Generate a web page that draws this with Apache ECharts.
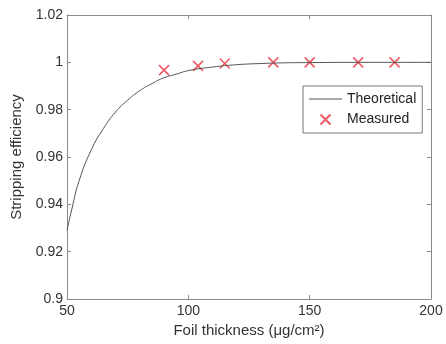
<!DOCTYPE html>
<html>
<head>
<meta charset="utf-8">
<script src="https://cdn.jsdelivr.net/npm/echarts@6/dist/echarts.min.js"></script>
<style>
  html,body{margin:0;padding:0;background:#fff;}
  #chart{width:446px;height:344px;}
</style>
</head>
<body>
<div id="chart"></div>
<script>
// theoretical curve
let theoX = [50, 52, 55, 60, 65, 70, 75, 80, 85, 90, 95, 100, 110, 120, 130, 140, 150, 175, 200];
let theoY = [0.929, 0.938, 0.950, 0.963, 0.972, 0.979, 0.984, 0.988, 0.991, 0.9935, 0.995, 0.9965, 0.998, 0.999, 0.9995, 0.9998, 0.9999, 1.0, 1.0];
// measured points
let measX = [90, 104, 115, 135, 150, 170, 185];
let measY = [0.9967, 0.9985, 0.9995, 1.0, 1.0, 1.0, 1.0];

let xTitle = 'Foil thickness (\u03bcg/cm\u00b2)';
let yTitle = 'Stripping efficiency';

let crossPath = 'path://M0,0L10,10M10,0L0,10';
let linePath = 'path://M0,0L33,0L33,1.2L0,1.2Z';
let axisGray = '#8a8a8a';
let txt = '#333';
let fnt = 'Liberation Sans, Arial, sans-serif';

let chart = echarts.init(document.getElementById('chart'));

let theo = theoX.map(function (x, i) { return [x, theoY[i]]; });
let meas = measX.map(function (x, i) { return [x, measY[i]]; });

function baseX(pos, show){
  return {
    type: 'value', position: pos, min: 50, max: 200, interval: 50,
    axisLine: {show: true, onZero: false, lineStyle: {color: axisGray, width: 1}},
    axisTick: {show: true, inside: true, length: 4, lineStyle: {color: axisGray}},
    splitLine: {show: false},
    axisLabel: {show: show, color: txt, fontSize: 14, fontFamily: fnt, margin: 5}
  };
}
function baseY(pos, show){
  return {
    type: 'value', position: pos, min: 0.9, max: 1.02, interval: 0.02,
    axisLine: {show: true, onZero: false, lineStyle: {color: axisGray, width: 1}},
    axisTick: {show: true, inside: true, length: 4, lineStyle: {color: axisGray}},
    splitLine: {show: false},
    axisLabel: {show: show, color: txt, fontSize: 14, fontFamily: fnt, margin: 4}
  };
}

let xMain = baseX('bottom', true);
xMain.name = xTitle;
xMain.nameLocation = 'middle';
xMain.nameGap = 21;
xMain.nameTextStyle = {color: txt, fontSize: 15, fontFamily: fnt};
let yMain = baseY('left', true);
yMain.name = yTitle;
yMain.nameLocation = 'middle';
yMain.nameGap = 41;
yMain.nameTextStyle = {color: txt, fontSize: 15, fontFamily: fnt};

let option = {
  animation: false,
  backgroundColor: '#fff',
  grid: {left: 67, right: 15, top: 15, bottom: 45},
  legend: {
    left: 303, top: 86,
    orient: 'vertical',
    backgroundColor: '#fff',
    borderColor: '#777', borderWidth: 1,
    padding: [6, 6, 6, 6],
    itemGap: 6,
    itemWidth: 33, itemHeight: 10,
    textStyle: {color: '#222', fontSize: 14, fontFamily: fnt},
    data: [
      {name: 'Theoretical', icon: linePath},
      {name: 'Measured', icon: crossPath}
    ]
  },
  xAxis: [xMain, baseX('top', false)],
  yAxis: [yMain, baseY('right', false)],
  series: [
    {
      name: 'Theoretical', type: 'line', data: theo,
      smooth: true, showSymbol: false, symbol: 'none',
      lineStyle: {color: '#555', width: 1},
      itemStyle: {color: '#555'}
    },
    {
      name: 'Measured', type: 'scatter', data: meas,
      symbol: crossPath, symbolSize: 10,
      itemStyle: {color: 'none', borderColor: '#e8333f', borderWidth: 1.6}
    }
  ]
};
chart.setOption(option);
</script>
</body>
</html>
